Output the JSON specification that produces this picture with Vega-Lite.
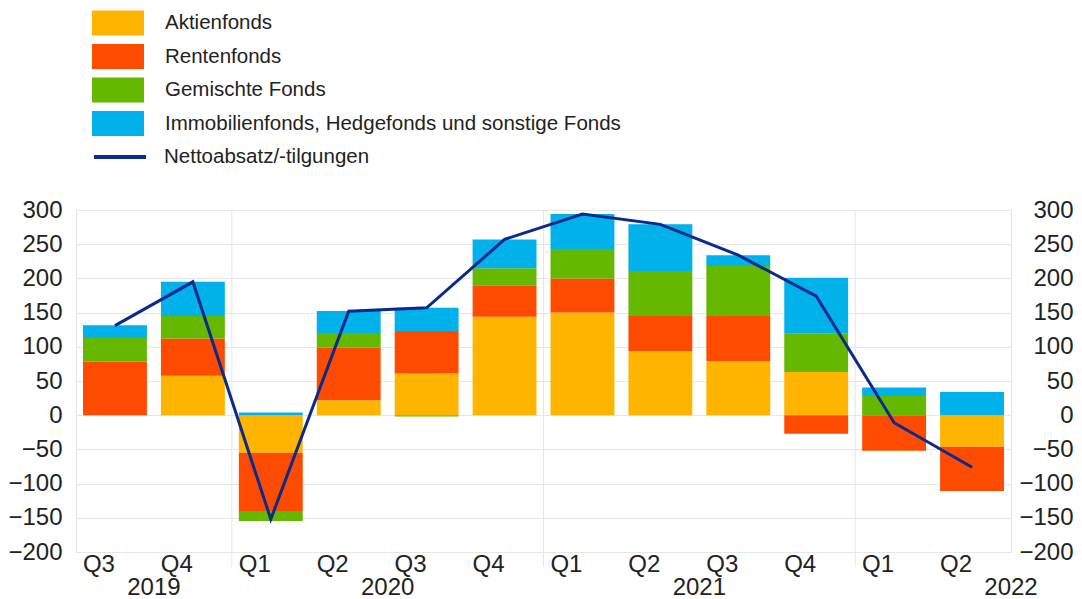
{
  "$schema": "https://vega.github.io/schema/vega-lite/v6.json",
  "width": 935,
  "height": 342,
  "autosize": {"type": "none"},
  "padding": {"left": 76, "top": 210, "right": 71, "bottom": 47},
  "background": "white",
  "config": {
    "font": "Liberation Sans",
    "view": {"stroke": "#e3e3e3"},
    "axis": {"labelColor": "#222", "labelFont": "Liberation Sans"},
    "legend": {"labelColor": "#222", "labelFont": "Liberation Sans"}
  },
  "datasets": {
    "flows": [
      {"q": "2019 Q3", "series": "Aktienfonds", "k": 1, "value": 0},
      {"q": "2019 Q3", "series": "Rentenfonds", "k": 2, "value": 78},
      {"q": "2019 Q3", "series": "Gemischte Fonds", "k": 3, "value": 35},
      {"q": "2019 Q3", "series": "Immobilienfonds, Hedgefonds und sonstige Fonds", "k": 4, "value": 18.6},
      {"q": "2019 Q4", "series": "Aktienfonds", "k": 1, "value": 57.5},
      {"q": "2019 Q4", "series": "Rentenfonds", "k": 2, "value": 54.5},
      {"q": "2019 Q4", "series": "Gemischte Fonds", "k": 3, "value": 33},
      {"q": "2019 Q4", "series": "Immobilienfonds, Hedgefonds und sonstige Fonds", "k": 4, "value": 50},
      {"q": "2020 Q1", "series": "Aktienfonds", "k": 1, "value": -55},
      {"q": "2020 Q1", "series": "Rentenfonds", "k": 2, "value": -85},
      {"q": "2020 Q1", "series": "Gemischte Fonds", "k": 3, "value": -14.5},
      {"q": "2020 Q1", "series": "Immobilienfonds, Hedgefonds und sonstige Fonds", "k": 4, "value": 4},
      {"q": "2020 Q2", "series": "Aktienfonds", "k": 1, "value": 22},
      {"q": "2020 Q2", "series": "Rentenfonds", "k": 2, "value": 77},
      {"q": "2020 Q2", "series": "Gemischte Fonds", "k": 3, "value": 21},
      {"q": "2020 Q2", "series": "Immobilienfonds, Hedgefonds und sonstige Fonds", "k": 4, "value": 32.5},
      {"q": "2020 Q3", "series": "Aktienfonds", "k": 1, "value": 61},
      {"q": "2020 Q3", "series": "Rentenfonds", "k": 2, "value": 62},
      {"q": "2020 Q3", "series": "Gemischte Fonds", "k": 3, "value": -2},
      {"q": "2020 Q3", "series": "Immobilienfonds, Hedgefonds und sonstige Fonds", "k": 4, "value": 34},
      {"q": "2020 Q4", "series": "Aktienfonds", "k": 1, "value": 144},
      {"q": "2020 Q4", "series": "Rentenfonds", "k": 2, "value": 46},
      {"q": "2020 Q4", "series": "Gemischte Fonds", "k": 3, "value": 25},
      {"q": "2020 Q4", "series": "Immobilienfonds, Hedgefonds und sonstige Fonds", "k": 4, "value": 42},
      {"q": "2021 Q1", "series": "Aktienfonds", "k": 1, "value": 150},
      {"q": "2021 Q1", "series": "Rentenfonds", "k": 2, "value": 50},
      {"q": "2021 Q1", "series": "Gemischte Fonds", "k": 3, "value": 43},
      {"q": "2021 Q1", "series": "Immobilienfonds, Hedgefonds und sonstige Fonds", "k": 4, "value": 51},
      {"q": "2021 Q2", "series": "Aktienfonds", "k": 1, "value": 94},
      {"q": "2021 Q2", "series": "Rentenfonds", "k": 2, "value": 51},
      {"q": "2021 Q2", "series": "Gemischte Fonds", "k": 3, "value": 66},
      {"q": "2021 Q2", "series": "Immobilienfonds, Hedgefonds und sonstige Fonds", "k": 4, "value": 68},
      {"q": "2021 Q3", "series": "Aktienfonds", "k": 1, "value": 79},
      {"q": "2021 Q3", "series": "Rentenfonds", "k": 2, "value": 66},
      {"q": "2021 Q3", "series": "Gemischte Fonds", "k": 3, "value": 73},
      {"q": "2021 Q3", "series": "Immobilienfonds, Hedgefonds und sonstige Fonds", "k": 4, "value": 16},
      {"q": "2021 Q4", "series": "Aktienfonds", "k": 1, "value": 63},
      {"q": "2021 Q4", "series": "Rentenfonds", "k": 2, "value": -27},
      {"q": "2021 Q4", "series": "Gemischte Fonds", "k": 3, "value": 56},
      {"q": "2021 Q4", "series": "Immobilienfonds, Hedgefonds und sonstige Fonds", "k": 4, "value": 82},
      {"q": "2022 Q1", "series": "Aktienfonds", "k": 1, "value": 0},
      {"q": "2022 Q1", "series": "Rentenfonds", "k": 2, "value": -52},
      {"q": "2022 Q1", "series": "Gemischte Fonds", "k": 3, "value": 28},
      {"q": "2022 Q1", "series": "Immobilienfonds, Hedgefonds und sonstige Fonds", "k": 4, "value": 12.5},
      {"q": "2022 Q2", "series": "Aktienfonds", "k": 1, "value": -46},
      {"q": "2022 Q2", "series": "Rentenfonds", "k": 2, "value": -65},
      {"q": "2022 Q2", "series": "Gemischte Fonds", "k": 3, "value": 0},
      {"q": "2022 Q2", "series": "Immobilienfonds, Hedgefonds und sonstige Fonds", "k": 4, "value": 34}
    ],
    "net": [
      {"q": "2019 Q3", "value": 131},
      {"q": "2019 Q4", "value": 195},
      {"q": "2020 Q1", "value": -152},
      {"q": "2020 Q2", "value": 152},
      {"q": "2020 Q3", "value": 157},
      {"q": "2020 Q4", "value": 257},
      {"q": "2021 Q1", "value": 294},
      {"q": "2021 Q2", "value": 279},
      {"q": "2021 Q3", "value": 234},
      {"q": "2021 Q4", "value": 174},
      {"q": "2022 Q1", "value": -11},
      {"q": "2022 Q2", "value": -76}
    ],
    "yearStarts": [
      {"q": "2020 Q1"},
      {"q": "2021 Q1"},
      {"q": "2022 Q1"}
    ],
    "yearLabels": [
      {"q": "2019 Q4", "year": "2019", "edge": "start"},
      {"q": "2020 Q3", "year": "2020", "edge": "start"},
      {"q": "2021 Q3", "year": "2021", "edge": "start"},
      {"q": "2022 Q2", "year": "2022", "edge": "end"}
    ]
  },
  "layer": [
    {
      "data": {"name": "yearStarts"},
      "mark": {"type": "rule", "color": "#e6e6e6", "strokeWidth": 1, "clip": false},
      "encoding": {
        "x": {"field": "q", "type": "ordinal", "bandPosition": 0},
        "y": {"datum": 300, "type": "quantitative", "axis": null},
        "y2": {"datum": -222}
      }
    },
    {
      "data": {"name": "flows"},
      "mark": {"type": "bar", "width": {"band": 0.82}},
      "encoding": {
        "x": {
          "field": "q", "type": "ordinal", "sort": null,
          "scale": {"type": "band", "paddingInner": 0, "paddingOuter": 0},
          "axis": {
            "title": null, "labelAngle": 0, "domain": false, "ticks": false, "grid": false,
            "labelFontSize": 24, "labelPadding": 12,
            "labelExpr": "split(datum.label, ' ')[1]"
          }
        },
        "y": {
          "field": "value", "type": "quantitative", "stack": "zero",
          "scale": {"domain": [-200, 300], "nice": false, "zero": false},
          "axis": {
            "orient": "left", "title": null, "values": [-200, -150, -100, -50, 0, 50, 100, 150, 200, 250, 300],
            "domain": false, "ticks": false, "grid": true, "gridColor": "#e6e6e6",
            "labelFontSize": 24, "labelPadding": 14
          }
        },
        "fill": {
          "field": "series", "type": "nominal",
          "scale": {
            "domain": ["Aktienfonds", "Rentenfonds", "Gemischte Fonds", "Immobilienfonds, Hedgefonds und sonstige Fonds"],
            "range": ["#FFB400", "#FF4B00", "#65B800", "#00B1EA"]
          },
          "legend": {
            "orient": "none", "legendX": 29.5, "legendY": -199.5, "title": null, "padding": 0,
            "symbolType": "M-2.08,-1H2.08V1H-2.08Z", "symbolSize": 625, "symbolStrokeWidth": 0,
            "labelFontSize": 20.5, "labelOffset": 34.5, "rowPadding": 8.5, "labelLimit": 700
          }
        },
        "order": {"field": "k", "type": "quantitative"}
      }
    },
    {
      "mark": {"type": "rule", "color": "#a6a6a6", "strokeWidth": 1.5},
      "encoding": {"y": {"datum": 0, "type": "quantitative", "axis": null}}
    },
    {
      "data": {"name": "net"},
      "mark": {"type": "line", "strokeWidth": 3},
      "encoding": {
        "x": {"field": "q", "type": "ordinal", "sort": null},
        "y": {
          "field": "value", "type": "quantitative",
          "axis": {
            "orient": "right", "title": null, "values": [-200, -150, -100, -50, 0, 50, 100, 150, 200, 250, 300],
            "domain": false, "ticks": false, "grid": false,
            "labelFontSize": 24, "labelPadding": 62, "labelAlign": "right"
          }
        },
        "stroke": {
          "datum": "Nettoabsatz/-tilgungen",
          "scale": {"range": ["#0A2A8C"]},
          "legend": {
            "orient": "none", "legendX": 16, "legendY": -81, "title": null, "padding": 0,
            "symbolType": "stroke", "symbolSize": 2704, "symbolStrokeWidth": 4,
            "labelFontSize": 20.5, "labelOffset": 16, "labelLimit": 700
          }
        }
      }
    },
    {
      "data": {"name": "yearLabels"},
      "transform": [{"filter": "datum.edge === 'start'"}],
      "mark": {"type": "text", "fontSize": 24, "color": "#222", "baseline": "middle", "align": "center", "dy": 36, "clip": false},
      "encoding": {
        "x": {"field": "q", "type": "ordinal", "bandPosition": 0},
        "y": {"datum": -200, "type": "quantitative", "axis": null},
        "text": {"field": "year"}
      }
    },
    {
      "data": {"name": "yearLabels"},
      "transform": [{"filter": "datum.edge === 'end'"}],
      "mark": {"type": "text", "fontSize": 24, "color": "#222", "baseline": "middle", "align": "center", "dy": 36, "clip": false},
      "encoding": {
        "x": {"field": "q", "type": "ordinal", "bandPosition": 1},
        "y": {"datum": -200, "type": "quantitative", "axis": null},
        "text": {"field": "year"}
      }
    }
  ],
  "resolve": {"axis": {"y": "independent"}}
}
